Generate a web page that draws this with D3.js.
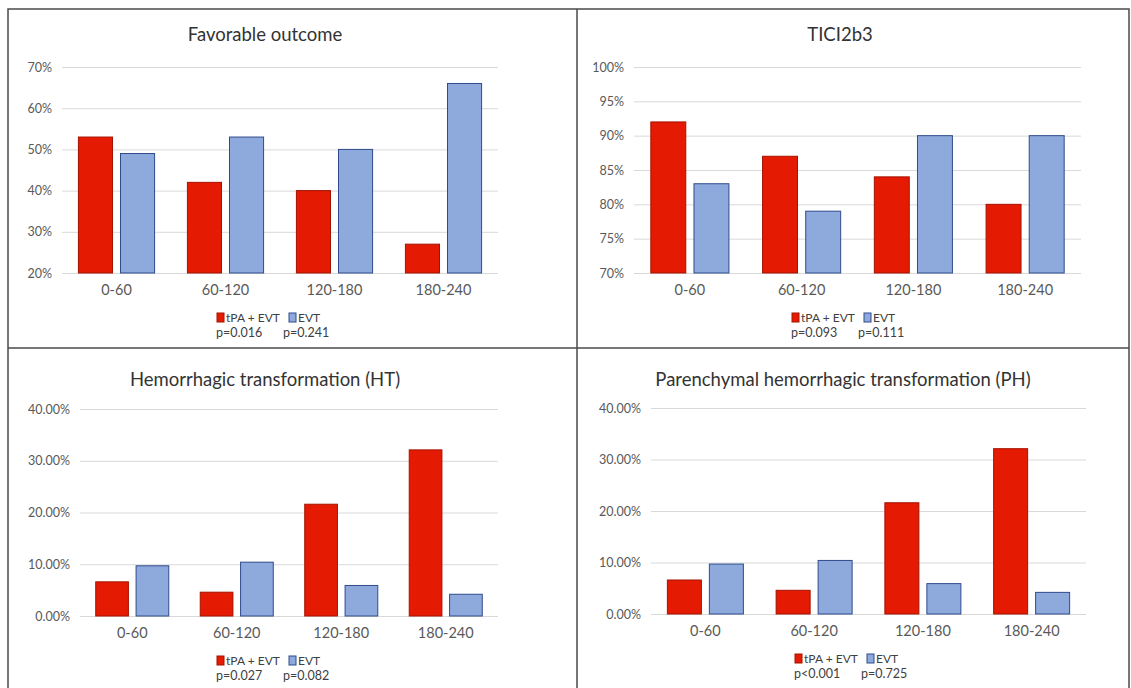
<!DOCTYPE html>
<html>
<head>
<meta charset="utf-8">
<script src="https://cdn.jsdelivr.net/npm/d3@7"></script>
<style>
  body { margin: 0; background: #fff; }
  svg { display: block; font-family: Lato, "Open Sans", sans-serif; }
</style>
</head>
<body>
<div id="chart"></div>
<script>
// categories and series
var categories = ["0-60", "60-120", "120-180", "180-240"];
var seriesNames = ["tPA + EVT", "EVT"];

// values (percent)
var favorableTpa = [53, 42, 40, 27];
var favorableEvt = [49, 53, 50, 66];
var ticiTpa = [92, 87, 84, 80];
var ticiEvt = [83, 79, 90, 90];
var htTpa = [6.6, 4.6, 21.6, 32.1];
var htEvt = [9.7, 10.4, 5.9, 4.2];
var phTpa = [6.6, 4.6, 21.6, 32.1];
var phEvt = [9.7, 10.4, 5.9, 4.2];

// axis ticks
var favorableTicks = [20, 30, 40, 50, 60, 70];
var ticiTicks = [70, 75, 80, 85, 90, 95, 100];
var hemTicks = [0, 10, 20, 30, 40];

// p values under the legend
var favorableP = ["p=0.016", "p=0.241"];
var ticiP = ["p=0.093", "p=0.111"];
var htP = ["p=0.027", "p=0.082"];
var phP = ["p<0.001", "p=0.725"];

var titles = ["Favorable outcome", "TICI2b3", "Hemorrhagic transformation (HT)",
              "Parenchymal hemorrhagic transformation (PH)"];

var fills = ["#e41a02", "#8eaadc"];
var strokes = ["#a51200", "#2f4b8c"];

var W = 1131, H = 688;
var svg = d3.select("#chart").append("svg")
    .attr("width", W)
    .attr("height", H);

var panels = [
  {title: titles[0], a: favorableTpa, b: favorableEvt, ticks: favorableTicks, p: favorableP,
   fmt: function(d){ return d + "%"; }, left: 62, right: 498, top: 67, bottom: 273, cx: 265, oy: 0},
  {title: titles[1], a: ticiTpa, b: ticiEvt, ticks: ticiTicks, p: ticiP,
   fmt: function(d){ return d + "%"; }, left: 634, right: 1081, top: 67, bottom: 273, cx: 840, oy: 0},
  {title: titles[2], a: htTpa, b: htEvt, ticks: hemTicks, p: htP,
   fmt: function(d){ return d.toFixed(2) + "%"; }, left: 80, right: 498, top: 409, bottom: 616, cx: 265, oy: 345},
  {title: titles[3], a: phTpa, b: phEvt, ticks: hemTicks, p: phP,
   fmt: function(d){ return d.toFixed(2) + "%"; }, left: 651, right: 1086, top: 408, bottom: 614, cx: 843, oy: 345}
];

panels.forEach(function(p){ drawPanel(p); });

function drawPanel(p) {
    var g = svg.append("g");
    var y = d3.scaleLinear()
        .domain([p.ticks[0], p.ticks[p.ticks.length - 1]])
        .range([p.bottom, p.top]);
    var x0 = d3.scaleBand().domain(categories).range([p.left, p.right]);
    var x1 = d3.scaleBand().domain(seriesNames).range([0, x0.bandwidth()])
        .paddingInner(0.19).paddingOuter(0.39);

    // title
    g.append("text")
        .attr("x", p.cx)
        .attr("y", p.oy + 41)
        .attr("text-anchor", "middle")
        .attr("fill", "#333")
        .style("font-size", "18.5px")
        .text(p.title);

    // gridlines + y labels
    var yAxis = d3.axisLeft(y)
        .tickValues(p.ticks)
        .tickSize(-(p.right - p.left))
        .tickPadding(10)
        .tickFormat(p.fmt);
    var ya = g.append("g")
        .attr("transform", "translate(" + p.left + ",0)")
        .call(yAxis);
    ya.select(".domain").remove();
    ya.selectAll(".tick line").attr("stroke", "#d9d9d9");
    ya.selectAll(".tick text")
        .attr("fill", "#595959")
        .style("font-size", "12.5px")
        .style("font-family", "Lato, sans-serif");

    // bars
    var rows = categories.map(function(c, i){
        return [{cat: c, s: 0, v: p.a[i]}, {cat: c, s: 1, v: p.b[i]}];
    });
    g.append("g").selectAll("g")
        .data(rows)
        .enter()
        .append("g")
        .attr("transform", function(d){ return "translate(" + x0(d[0].cat) + ",0)"; })
        .selectAll("rect")
        .data(function(d){ return d; })
        .enter()
        .append("rect")
        .attr("x", function(d){ return x1(seriesNames[d.s]); })
        .attr("y", function(d){ return y(d.v); })
        .attr("width", x1.bandwidth())
        .attr("height", function(d){ return p.bottom - y(d.v); })
        .attr("fill", function(d){ return fills[d.s]; })
        .attr("stroke", function(d){ return strokes[d.s]; })
        .attr("stroke-width", 1);

    // category labels
    var xAxis = d3.axisBottom(x0).tickSize(0).tickPadding(12);
    var xa = g.append("g")
        .attr("transform", "translate(0," + p.bottom + ")")
        .call(xAxis);
    xa.select(".domain").remove();
    xa.selectAll(".tick text")
        .attr("fill", "#595959")
        .style("font-size", "14.5px")
        .style("font-family", "Lato, sans-serif");

    // legend
    var lx = p.cx - 48;
    var ly = p.bottom + 49;
    var leg = g.append("g");
    leg.append("rect").attr("x", lx).attr("y", ly - 9).attr("width", 7).attr("height", 9)
        .attr("fill", fills[0]).attr("stroke", strokes[0]);
    leg.append("text").attr("x", lx + 9).attr("y", ly).attr("fill", "#404040")
        .style("font-size", "12px").text(seriesNames[0]);
    leg.append("rect").attr("x", lx + 72).attr("y", ly - 9).attr("width", 7).attr("height", 9)
        .attr("fill", fills[1]).attr("stroke", strokes[1]);
    leg.append("text").attr("x", lx + 81).attr("y", ly).attr("fill", "#404040")
        .style("font-size", "12px").text(seriesNames[1]);
    leg.append("text").attr("x", lx - 1).attr("y", ly + 15).attr("fill", "#404040")
        .style("font-size", "12.5px").text(p.p[0]);
    leg.append("text").attr("x", lx + 66).attr("y", ly + 15).attr("fill", "#404040")
        .style("font-size", "12.5px").text(p.p[1]);
}

// panel frame
var frame = svg.append("g").attr("fill", "none").attr("stroke", "#4a4a4a").attr("stroke-width", 1.5);
frame.append("rect").attr("x", 8).attr("y", 9).attr("width", 1121).attr("height", 700);
frame.append("line").attr("x1", 577).attr("x2", 577).attr("y1", 9).attr("y2", H);
frame.append("line").attr("x1", 8).attr("x2", 1129).attr("y1", 348).attr("y2", 348);
</script>
</body>
</html>
